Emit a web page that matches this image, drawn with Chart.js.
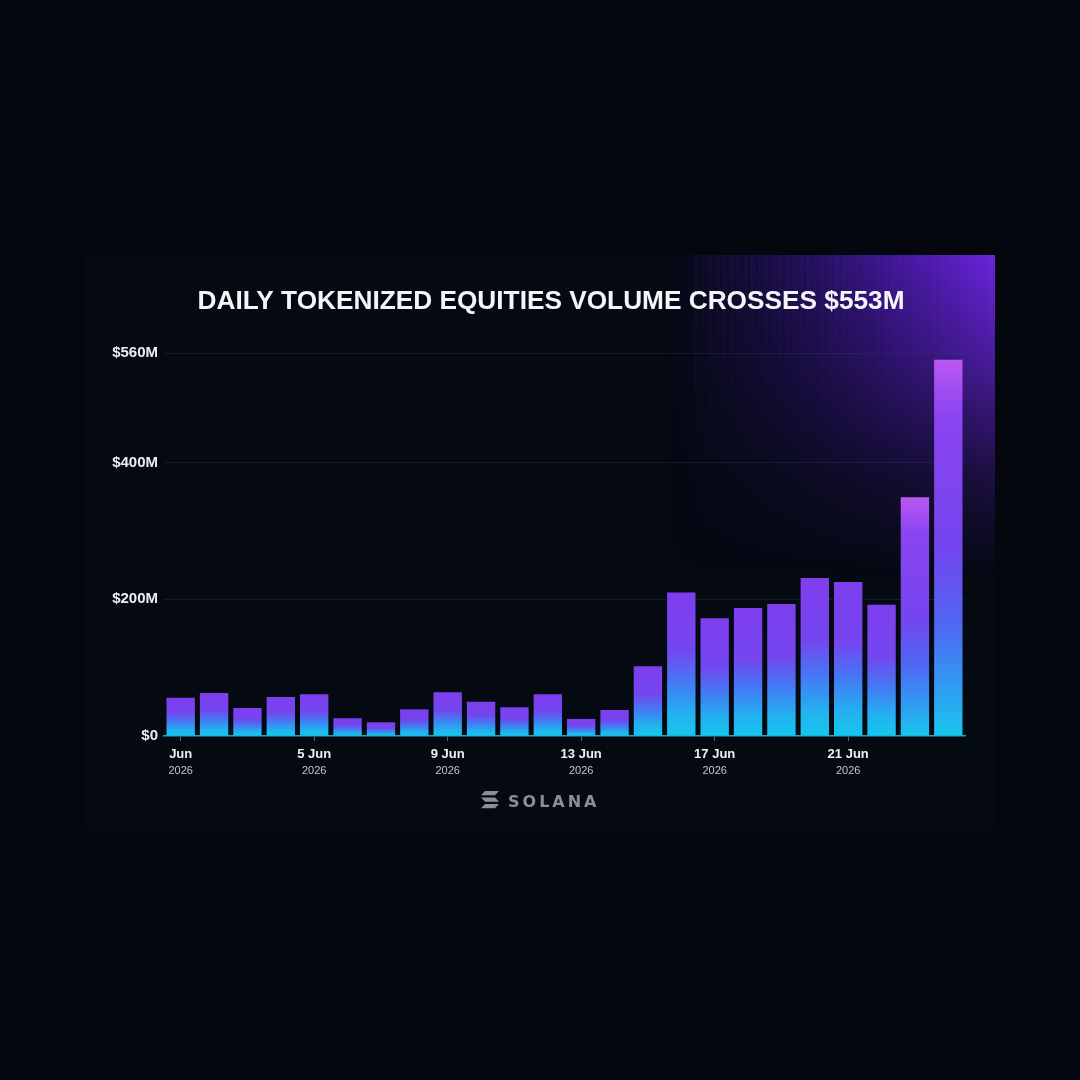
<!DOCTYPE html>
<html>
<head>
<meta charset="utf-8">
<script src="https://cdn.jsdelivr.net/npm/chart.js@4.4.1/dist/chart.umd.min.js"></script>
<style>
  html, body { margin: 0; padding: 0; background: #04070e; }
  #chart { display: block; }
</style>
</head>
<body>
<canvas id="chart" width="1080" height="1080"></canvas>
<script>
// daily volume, $M, 1 Jun .. 24 Jun 2026
const days = ['1 Jun', '2 Jun', '3 Jun', '4 Jun', '5 Jun', '6 Jun', '7 Jun', '8 Jun',
    '9 Jun', '10 Jun', '11 Jun', '12 Jun', '13 Jun', '14 Jun', '15 Jun', '16 Jun',
    '17 Jun', '18 Jun', '19 Jun', '20 Jun', '21 Jun', '22 Jun', '23 Jun', '24 Jun'];
const volume = [56, 63, 41, 57, 61, 26, 20, 39, 64, 50, 42, 61,
    25, 38, 102, 210, 172, 187, 193, 231, 225, 192, 349, 550];
const yTicks = [0, 200, 400, 560];
const tickYear = '2026';
const title = 'DAILY TOKENIZED EQUITIES VOLUME CROSSES $553M';

const PANEL = { x: 85, y: 255, w: 910, h: 575 };

// purple corner glow, built once on a side canvas
function makeGlow() {
    const off = document.createElement('canvas');
    off.width = PANEL.w;
    off.height = PANEL.h;
    const o = off.getContext('2d');
    const W = PANEL.w;
    const hg = o.createLinearGradient(W - 330, 0, W, 0);
    hg.addColorStop(0, 'rgba(60,20,160,0)');
    hg.addColorStop(0.35, 'rgba(70,24,180,0.35)');
    hg.addColorStop(0.7, 'rgba(92,30,210,0.7)');
    hg.addColorStop(1, 'rgba(112,38,232,0.95)');
    o.fillStyle = hg;
    o.fillRect(W - 330, 0, 330, 360);
    // faint vertical streaks
    for (let x = W - 300; x < W; x += 2) {
        const a = ((x * 13) % 7) * 0.012;
        o.fillStyle = 'rgba(160,90,255,' + a + ')';
        o.fillRect(x, 0, 1, 360);
    }
    o.globalCompositeOperation = 'destination-in';
    const vg = o.createLinearGradient(0, 0, 0, 320);
    vg.addColorStop(0, 'rgba(0,0,0,1)');
    vg.addColorStop(0.35, 'rgba(0,0,0,0.65)');
    vg.addColorStop(0.7, 'rgba(0,0,0,0.22)');
    vg.addColorStop(1, 'rgba(0,0,0,0)');
    o.fillStyle = vg;
    o.fillRect(0, 0, W, PANEL.h);
    return off;
}
const glowCanvas = makeGlow();

// background, panel, glow and title
const backdrop = {
    id: 'backdrop',
    beforeDraw(chart) {
        const ctx = chart.ctx;
        ctx.save();
        ctx.fillStyle = '#04070e';
        ctx.fillRect(0, 0, chart.width, chart.height);
        ctx.fillStyle = '#050912';
        ctx.fillRect(PANEL.x, PANEL.y, PANEL.w, PANEL.h);
        ctx.drawImage(glowCanvas, PANEL.x, PANEL.y);
        ctx.restore();

        // title, squeezed slightly to the width in the picture
        ctx.save();
        ctx.font = 'bold 25px "Liberation Sans", Arial, sans-serif';
        ctx.fillStyle = '#f4f5f8';
        ctx.textBaseline = 'alphabetic';
        const w = ctx.measureText(title).width;
        ctx.translate(551, 309);
        ctx.scale(707 / w, 1);
        ctx.textAlign = 'center';
        ctx.fillText(title, 0, 0);
        ctx.restore();
    }
};

// second line of the date ticks and the Solana mark
const footer = {
    id: 'footer',
    afterDraw(chart) {
        const ctx = chart.ctx;
        const xs = chart.scales.x;
        ctx.save();
        ctx.font = '11px "Liberation Sans", Arial, sans-serif';
        ctx.fillStyle = '#c3c7cf';
        ctx.textAlign = 'center';
        ctx.textBaseline = 'middle';
        days.forEach((d, i) => {
            if (i % 4 === 0) ctx.fillText(tickYear, xs.getPixelForTick(i), 771);
        });

        // logo mark
        const lx = 481, ly = 791, h = 4.2;
        ctx.fillStyle = '#8a8e99';
        const bar = (y, flip) => {
            ctx.beginPath();
            if (!flip) {
                ctx.moveTo(lx + 4, y); ctx.lineTo(lx + 18, y);
                ctx.lineTo(lx + 14, y + h); ctx.lineTo(lx, y + h);
            } else {
                ctx.moveTo(lx, y); ctx.lineTo(lx + 14, y);
                ctx.lineTo(lx + 18, y + h); ctx.lineTo(lx + 4, y + h);
            }
            ctx.closePath();
            ctx.fill();
        };
        bar(ly, false);
        bar(ly + 6.5, true);
        bar(ly + 13, false);

        ctx.font = 'bold 16px "DejaVu Sans", sans-serif';
        ctx.letterSpacing = '3px';
        ctx.textAlign = 'left';
        ctx.textBaseline = 'alphabetic';
        ctx.fillText('SOLANA', 508, 807);
        ctx.restore();
    }
};

function barFill(c) {
    const chart = c.chart;
    if (!chart.chartArea || c.type !== 'data') return '#7b3ff0';
    const y = chart.scales.y;
    const v = c.raw;
    const y0 = y.getPixelForValue(0), y1 = y.getPixelForValue(v);
    if (!isFinite(y0) || !isFinite(y1) || y0 === y1) return '#7b3ff0';
    const g = chart.ctx.createLinearGradient(0, y0, 0, y1);
    if (v > 300) {
        g.addColorStop(0, '#18c6ee');
        g.addColorStop(0.1, '#2aa6f1');
        g.addColorStop(0.3, '#5066f3');
        g.addColorStop(0.5, '#7445ef');
        g.addColorStop(0.85, '#8a44f0');
        g.addColorStop(1, '#bb58f3');
    } else {
        g.addColorStop(0, '#16c8ee');
        g.addColorStop(0.15, '#22b2f0');
        g.addColorStop(0.38, '#4578f4');
        g.addColorStop(0.6, '#7346ef');
        g.addColorStop(1, '#7f3eee');
    }
    return g;
}

new Chart(document.getElementById('chart'), {
    type: 'bar',
    data: {
        labels: days,
        datasets: [{
            data: volume,
            backgroundColor: barFill,
            borderWidth: 0,
            barPercentage: 0.85,
            categoryPercentage: 1
        }]
    },
    options: {
        responsive: false,
        animation: false,
        layout: { padding: { left: 100, right: 115, top: 353, bottom: 294 } },
        plugins: { legend: { display: false }, tooltip: { enabled: false } },
        scales: {
            x: {
                afterFit(s) { s.height = 50; },
                border: { display: true, color: '#1aa9c8', width: 1.5 },
                grid: {
                    offset: false,
                    drawOnChartArea: false,
                    drawTicks: true,
                    tickLength: 5,
                    color: (c) => (c.index % 4 === 0 ? '#556170' : 'rgba(0,0,0,0)')
                },
                ticks: {
                    autoSkip: false,
                    maxRotation: 0,
                    padding: 6,
                    color: '#eef0f4',
                    font: { family: '"Liberation Sans", Arial, sans-serif', size: 13, weight: 'bold' },
                    callback: (val, i) => (i % 4 === 0 ? (i === 0 ? 'Jun' : days[i]) : '')
                }
            },
            y: {
                min: 0,
                max: 560,
                afterFit(s) { s.width = 64; },
                afterBuildTicks(s) { s.ticks = yTicks.map(v => ({ value: v })); },
                border: { display: false },
                grid: {
                    drawTicks: false,
                    tickLength: 0,
                    color: (c) => (c.tick && c.tick.value === 0 ? 'rgba(0,0,0,0)' : 'rgba(35,75,105,0.3)'),
                    lineWidth: 1
                },
                ticks: {
                    padding: 6,
                    color: '#eceef2',
                    font: { family: '"Liberation Sans", Arial, sans-serif', size: 15, weight: 'bold' },
                    callback: (v) => '$' + v + (v === 0 ? '' : 'M')
                }
            }
        }
    },
    plugins: [backdrop, footer]
});
</script>
</body>
</html>
